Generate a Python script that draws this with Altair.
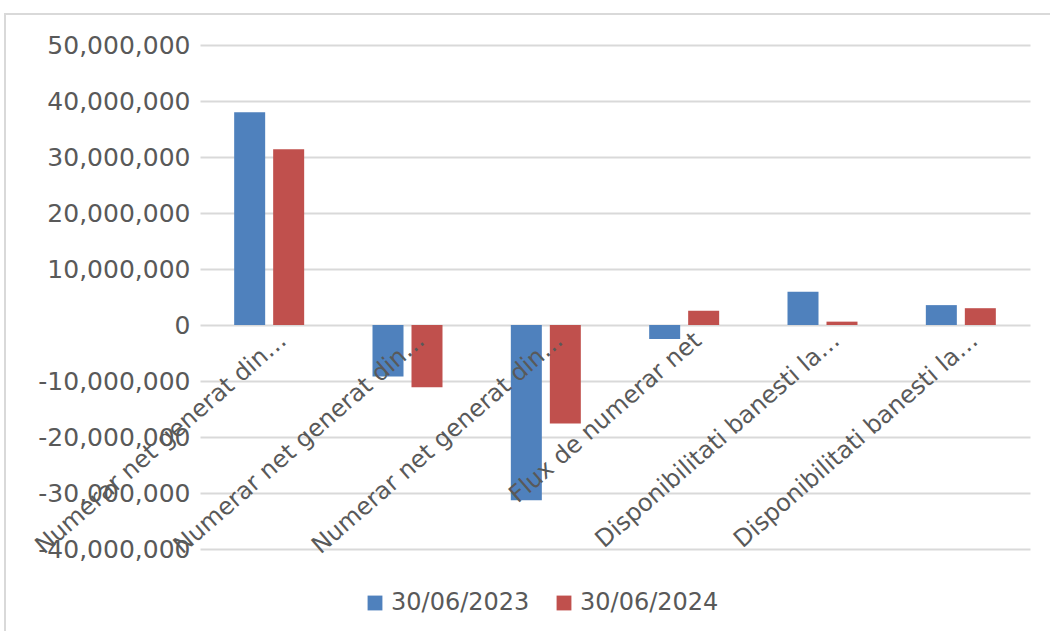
import altair as alt
import pandas as pd

categories = ["c1", "c2", "c3", "c4", "c5", "c6"]
cat_labels = [
    "Numerar net generat din…",
    "Numerar net generat din…",
    "Numerar net generat din…",
    "Flux de numerar net",
    "Disponibilitati banesti la…",
    "Disponibilitati banesti la…",
]
series_names = ["30/06/2023", "30/06/2024"]
values_2023 = [38000000, -9200000, -31300000, -2500000, 5950000, 3550000]
values_2024 = [31400000, -11100000, -17600000, 2550000, 600000, 3000000]
y_ticks = [-40000000, -30000000, -20000000, -10000000, 0, 10000000,
           20000000, 30000000, 40000000, 50000000]

rows = []
for c, v in zip(categories, values_2023):
    rows.append({"cat": c, "series": series_names[0], "value": v})
for c, v in zip(categories, values_2024):
    rows.append({"cat": c, "series": series_names[1], "value": v})
df = pd.DataFrame(rows)

label_map = "{" + ",".join(f"'{c}': '{l}'" for c, l in zip(categories, cat_labels)) + "}"

FONT = "DejaVu Sans"
GRAY = "#595959"

bars = alt.Chart(df).mark_bar().encode(
    x=alt.X("cat:N", sort=categories,
            scale=alt.Scale(paddingInner=0.494, paddingOuter=0.247),
            axis=alt.Axis(title=None, orient="bottom", offset=-224, domain=False,
                          ticks=False, labelAngle=319, labelAlign="right",
                          labelBaseline="middle", labelOffset=14, labelPadding=12,
                          labelFontSize=24, labelFont=FONT, labelColor=GRAY,
                          labelLimit=0, grid=False, zindex=1,
                          labelExpr=f"{label_map}[datum.value]")),
    xOffset=alt.XOffset("series:N", sort=series_names,
                        scale=alt.Scale(paddingInner=0.205)),
    y=alt.Y("value:Q", scale=alt.Scale(domain=[-40000000, 50000000], nice=False),
            axis=alt.Axis(title=None, values=y_ticks, domain=False,
                          labelExpr="(datum.value < 0 ? '-' : '') + format(abs(datum.value), ',d')",
                          ticks=False, labelPadding=10, labelFontSize=25,
                          labelFont=FONT, labelColor=GRAY, gridColor="#d9d9d9",
                          gridWidth=2)),
    color=alt.Color("series:N", sort=series_names,
                    scale=alt.Scale(domain=series_names, range=["#4F81BD", "#C0504D"]),
                    legend=alt.Legend(title=None, orient="none", legendX=163, legendY=546,
                                      direction="horizontal", symbolType="square",
                                      symbolSize=220, symbolStrokeWidth=0,
                                      labelFontSize=24, labelFont=FONT, labelColor=GRAY,
                                      columnPadding=22, symbolOffset=0, labelOffset=4)),
)

frame = alt.Chart(pd.DataFrame({"a": [0]})).mark_rect(
    fill=None, stroke="#d9d9d9", strokeWidth=2
).encode(x=alt.value(-195), x2=alt.value(870), y=alt.value(-31), y2=alt.value(620))

chart = alt.layer(frame, bars).properties(
    width=830, height=504,
    autosize=alt.AutoSizeParams(type="none"),
    padding={"left": 200, "top": 45, "right": 20, "bottom": 82},
    background="white",
).configure_view(stroke=None)

chart.save("out.html", embed_options={"renderer": "svg", "actions": False})
